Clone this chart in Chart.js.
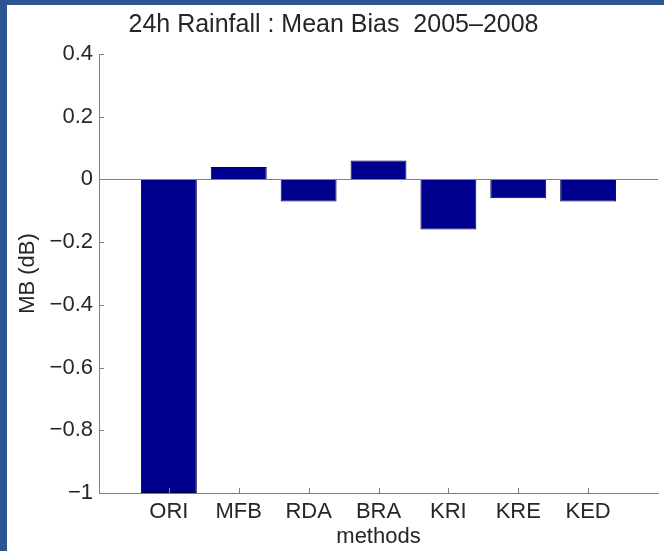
<!DOCTYPE html>
<html>
<head>
<meta charset="utf-8">
<script src="https://cdn.jsdelivr.net/npm/chart.js@4/dist/chart.umd.min.js"></script>
<style>
  html, body { margin: 0; padding: 0; background: #2c5592; }
  body { width: 664px; height: 551px; overflow: hidden; position: relative; }
  #panel { position: absolute; left: 7px; top: 5px; width: 657px; height: 546px; background: #fff; }
  canvas { display: block; }
</style>
</head>
<body>
<div id="panel"><canvas id="chartMB" width="657" height="546"></canvas></div>
<script>
const methods = ['ORI', 'MFB', 'RDA', 'BRA', 'KRI', 'KRE', 'KED']
const meanBias = [-1.0, 0.04, -0.07, 0.06, -0.16, -0.06, -0.07]
const yTickValues = [-1, -0.8, -0.6, -0.4, -0.2, 0, 0.2, 0.4]
const yTickLabels = ['\u22121', '\u22120.8', '\u22120.6', '\u22120.4', '\u22120.2', '0', '0.2', '0.4']

const axisGrey = '#7f7f7f'
const textColor = '#262626'
const fontFam = '"Liberation Sans", Arial, Helvetica, sans-serif'

// matlab style ticks pointing into the plot
const innerTicks = {
    id: 'innerTicks',
    afterDraw(chart) {
        const { ctx, chartArea, scales } = chart
        ctx.save()
        ctx.strokeStyle = axisGrey
        ctx.lineWidth = 1
        ctx.beginPath()
        yTickValues.forEach(v => {
            const y = Math.round(scales.y.getPixelForValue(v)) + 0.5
            ctx.moveTo(chartArea.left, y)
            ctx.lineTo(chartArea.left + 5, y)
        })
        methods.forEach((m, i) => {
            const x = Math.round(scales.x.getPixelForValue(i + 1)) + 0.5
            ctx.moveTo(x, chartArea.bottom)
            ctx.lineTo(x, chartArea.bottom - 5)
        })
        ctx.stroke()
        ctx.restore()
    }
}

const ctx = document.getElementById('chartMB').getContext('2d')

const chartMB = new Chart(ctx, {
    type: 'bar',
    data: {
        datasets: [{
            label: 'MB',
            data: methods.map((m, i) => ({ x: i + 1, y: meanBias[i] })),
            backgroundColor: '#00008f',
            borderColor: '#00004a',
            borderWidth: 1,
            barPercentage: 0.8,
            categoryPercentage: 1.0
        }]
    },
    options: {
        responsive: false,
        animation: false,
        layout: { padding: { left: 0, right: 4, top: 0, bottom: 0 } },
        plugins: {
            legend: { display: false },
            tooltip: { enabled: false },
            title: {
                display: true,
                text: '24h Rainfall : Mean Bias  2005\u20132008',
                color: textColor,
                font: { family: fontFam, size: 25, weight: 'normal' },
                padding: { top: 5, bottom: 14 }
            }
        },
        scales: {
            x: {
                type: 'linear',
                min: 0,
                max: 8,
                offset: false,
                afterBuildTicks: (scale) => {
                    scale.ticks = [0, 1, 2, 3, 4, 5, 6, 7, 8].map(v => ({ value: v }))
                },
                afterFit: (scale) => { scale.height = 58 },
                grid: { display: false, drawTicks: false },
                border: { display: true, color: axisGrey, width: 1 },
                ticks: {
                    autoSkip: false,
                    maxRotation: 0,
                    padding: 6,
                    color: textColor,
                    font: { family: fontFam, size: 22 },
                    callback: (v) => methods[v - 1] || ''
                },
                title: {
                    display: true,
                    text: 'methods',
                    color: textColor,
                    font: { family: fontFam, size: 22 },
                    padding: { top: 0, bottom: 1 }
                }
            },
            y: {
                min: -1,
                max: 0.4,
                afterBuildTicks: (scale) => {
                    scale.ticks = yTickValues.map(v => ({ value: v }))
                },
                afterFit: (scale) => { scale.width = 92 },
                grid: {
                    drawTicks: false,
                    color: (c) => (c.tick && c.tick.value === 0 ? axisGrey : 'rgba(0,0,0,0)')
                },
                border: { display: true, color: axisGrey, width: 1 },
                ticks: {
                    padding: 6,
                    color: textColor,
                    font: { family: fontFam, size: 22 },
                    callback: (v) => yTickLabels[yTickValues.indexOf(v)]
                },
                title: {
                    display: true,
                    text: 'MB (dB)',
                    color: textColor,
                    font: { family: fontFam, size: 22 },
                    padding: { top: 8, bottom: 0 }
                }
            }
        }
    },
    plugins: [innerTicks]
})
</script>
</body>
</html>
